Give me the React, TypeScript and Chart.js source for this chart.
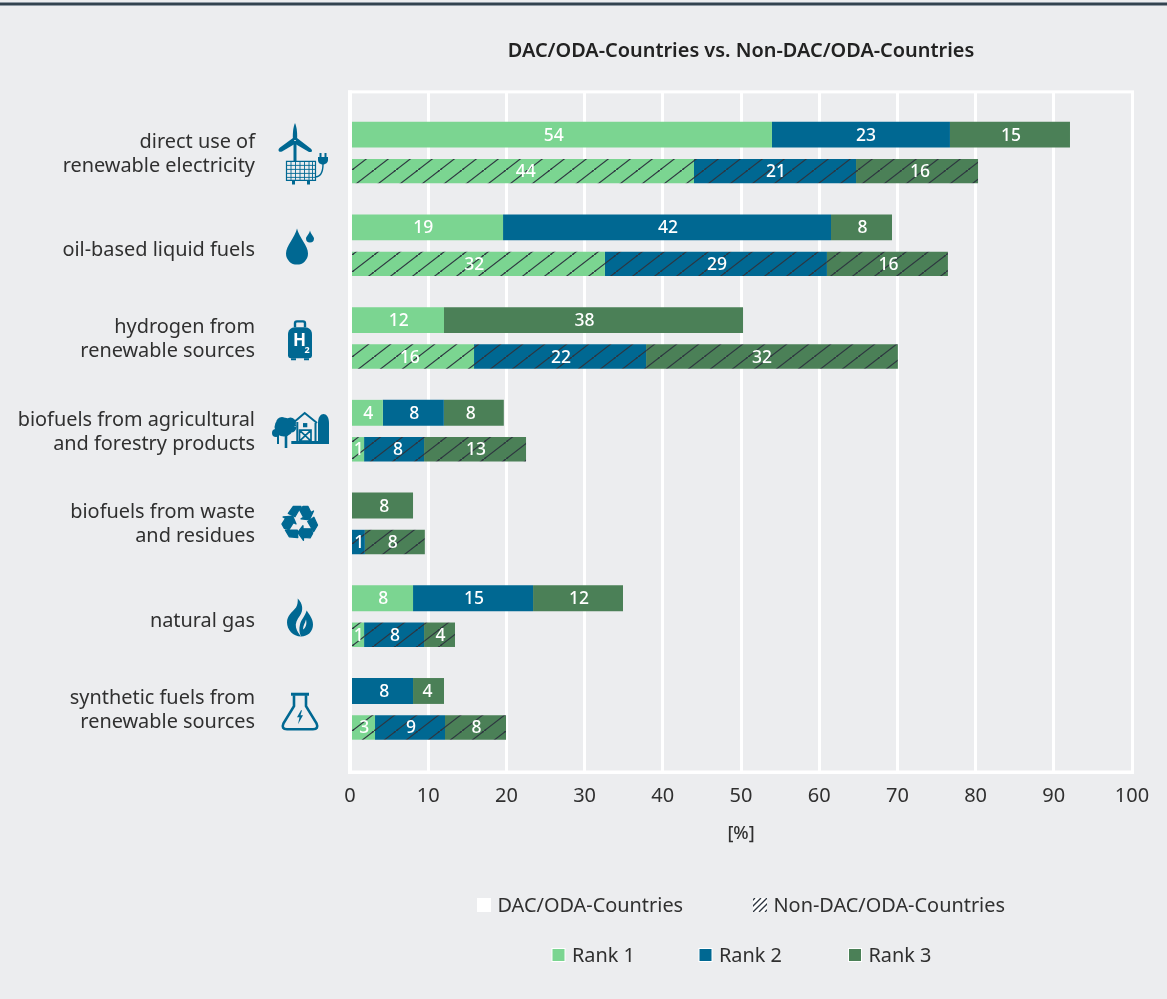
import React, { useEffect, useRef } from "react";
import { Chart, registerables } from "chart.js";

Chart.register(...registerables);

const categoryLabels = [
  ["direct use of", "renewable electricity"],
  ["", "oil-based liquid fuels"],
  ["hydrogen from", "renewable sources"],
  ["biofuels from agricultural", "and forestry products"],
  ["biofuels from waste", "and residues"],
  ["", "natural gas"],
  ["synthetic fuels from", "renewable sources"],
];

const dacRank1 = [53.96, 19.57, 12.02, 4.2, 0, 8.06, 0];
const dacRank2 = [22.76, 41.94, 0, 7.8, 0, 15.35, 8.06];
const dacRank3 = [15.35, 7.8, 38.24, 7.67, 8.06, 11.5, 3.96];
const nonRank1 = [43.99, 32.6, 15.86, 1.8, 0, 1.8, 3.2];
const nonRank2 = [20.72, 28.39, 22.0, 7.67, 1.9, 7.67, 8.95];
const nonRank3 = [15.6, 15.47, 32.2, 13.04, 7.67, 3.96, 7.8];

const dacRank1Labels = [54, 19, 12, 4, 0, 8, 0];
const dacRank2Labels = [23, 42, 0, 8, 0, 15, 8];
const dacRank3Labels = [15, 8, 38, 8, 8, 12, 4];
const nonRank1Labels = [44, 32, 16, 1, 0, 1, 3];
const nonRank2Labels = [21, 29, 22, 8, 1, 8, 9];
const nonRank3Labels = [16, 16, 32, 13, 8, 4, 8];

const titleText = "DAC/ODA-Countries vs. Non-DAC/ODA-Countries";
const axisTitle = "[%]";
const FONT = '"Noto Sans", "Open Sans", sans-serif';
const BG = "#ECEDEF";
const GREEN = "#7BD591";
const BLUE = "#006892";
const DARK = "#4B8057";
const INK = "#303030";

// Labels in the reference that sit visibly off the centre of their segment ("dataset:row" -> px).
const labelNudge: Record<string, number> = {
  "0:0": -9, "1:0": 4, "0:1": -5, "2:2": -10, "3:0": 2, "5:0": 2,
  "3:1": -5, "3:2": -4, "5:2": -11, "2:3": -4, "4:3": 3, "2:4": 1, "5:4": -3,
  "1:6": 1, "2:6": -2,
};

function hatch(color: string): CanvasPattern {
  const c = document.createElement("canvas");
  c.width = 22;
  c.height = 17;
  const g = c.getContext("2d")!;
  g.fillStyle = color;
  g.fillRect(0, 0, 22, 17);
  g.strokeStyle = "#2E3640";
  g.lineWidth = 1.1;
  for (const [dx, dy] of [[0, 0], [-22, 17], [22, -17]]) {
    g.beginPath();
    g.moveTo(dx - 2, dy + 17 + 1.55);
    g.lineTo(dx + 24, dy - 1.55);
    g.stroke();
  }
  return g.createPattern(c, "repeat")!;
}

function fill(ctx: CanvasRenderingContext2D, d: string) {
  ctx.fill(new Path2D(d));
}
function stroke(ctx: CanvasRenderingContext2D, d: string, w: number) {
  ctx.lineWidth = w;
  ctx.stroke(new Path2D(d));
}

const icons: ((c: CanvasRenderingContext2D) => void)[] = [
  (c) => {
    fill(c, "M-6.5,-12 H-3.5 V9 H-6.5Z");
    fill(c, "M-5,-30 C-3,-26 -2.5,-18 -3,-13 L-7,-13 C-7.5,-18 -7,-26 -5,-30Z");
    fill(c, "M-7,-15 L-20,-5.5 C-23,-3 -21,0 -18,-1.5 L-4.5,-9.5Z");
    fill(c, "M-3,-15 L10,-5 C13.5,-2.5 12,0 9,-1 L-5.5,-9.5Z");
    stroke(c, "M-13.5,8.5 H15.5 V27.5 H-13.5Z", 1.2);
    stroke(c, "M-13,12.5 H15 M-13,16.5 H15 M-13,20.5 H15 M-13,24.5 H15 M-9,9 V27 M-4.5,9 V27 M0,9 V27 M4.5,9 V27 M9,9 V27 M12.5,9 V27", 0.9);
    fill(c, "M-8,28 H-5 V31.5 H-8Z M7,28 H10 V31.5 H7Z");
    fill(c, "M18,4 H28 V7 C28,10 25,11.5 23,11.5 C20.5,11.5 18,10 18,7Z M19.5,0 H21.5 V4 H19.5Z M24.5,0 H26.5 V4 H24.5Z");
    stroke(c, "M23,11 C23,19 21,24 15,24", 1.4);
  },
  (c) => {
    fill(c, "M-3,-17 C-1,-8 8,0 8,8 A11,11 0 0 1 -14,8 C-14,0 -5,-8 -3,-17Z");
    fill(c, "M10,-15 C11,-11 14,-9 14,-7 A4,4 0 0 1 6,-7 C6,-9 9,-11 10,-15Z");
  },
  (c) => {
    fill(c, "M-5,-11 H5 C9,-11 12,-8 12,-4 V17 Q12,20 9,20 H-9 Q-12,20 -12,17 V-4 C-12,-8 -9,-11 -5,-11Z");
    stroke(c, "M-5,-11 V-15 Q-5,-17 -3,-17 H3 Q5,-17 5,-15 V-11", 2.4);
    fill(c, "M-9,20 H-4 V22 H-9Z M4,20 H9 V22 H4Z");
    c.fillStyle = "#FFFFFF";
    c.textAlign = "center";
    c.textBaseline = "middle";
    c.font = `700 17px ${FONT}`;
    c.fillText("H", -0.5, 3);
    c.font = `700 9px ${FONT}`;
    c.fillText("2", 7, 12);
  },
  (c) => {
    c.beginPath();
    c.arc(-16, -4, 9.5, 0, Math.PI * 2);
    c.arc(-9, -4, 5.5, 0, Math.PI * 2);
    c.arc(-18, -8, 6, 0, Math.PI * 2);
    c.arc(-9.5, -8, 5.5, 0, Math.PI * 2);
    c.fill();
    c.beginPath();
    c.arc(-24, 2, 4, 0, Math.PI * 2);
    c.fill();
    fill(c, "M-15.3,0 H-12.7 V17 H-15.3Z M-23,0 H-21 V13 H-23Z");
    stroke(c, "M-7,-8 L4.7,-18 L17,-8 M-2.7,-9 V11 M15.5,-8 V11", 2);
    fill(c, "M-8.7,10 H29 V13 H-8.7Z");
    fill(c, "M3,-8 H7.3 V-3.8 H3Z");
    stroke(c, "M-0.5,-1 H11 V10 H-0.5Z M-0.5,-1 L11,10 M11,-1 L-0.5,10", 1.7);
    fill(c, "M18,-8 C18,-20 29,-20 29,-8 V13 H18Z");
  },
  (c) => {
    const band = new Path2D("M-6.7,-16.3 L1,-16.3 L-5,-6 L-11.7,-9.3Z");
    const arrow = new Path2D("M3,-16.3 L8,-16.3 L11,-10.3 L13.5,-11.8 L9.5,-3 L1,-4 L3.5,-5.5 L-0.5,-13Z");
    c.translate(0, -1);
    c.lineWidth = 1.3;
    c.lineJoin = "round";
    for (let k = 0; k < 3; k++) {
      c.save();
      c.rotate((k * 2 * Math.PI) / 3);
      for (const p of [band, arrow]) {
        c.fill(p);
        c.stroke(p);
      }
      c.restore();
    }
  },
  (c) => {
    fill(c, "M-2.3,-18 C3,-13 3.5,-6 0,-1 C-3,3 -5,7 -4,11 C-3,15 -1,17 1,20 C-7,20 -13,13 -13,6 C-13,-1 -8,-4 -4,-9 C-2.5,-11.5 -2,-15 -2.3,-18Z");
    fill(c, "M6.7,-6 C9,-2 13,2 13,8 C13,15 8,20 1,20 C-1,16 -1,12 0,8 C1,3 5,0 6.7,-6Z");
    c.fillStyle = BG;
    fill(c, "M6,3 C5,7 3,9 3,13 C6,11 7,7 6,3Z");
    c.fillStyle = BLUE;
  },
  (c) => {
    stroke(c, "M-9,-15 H9", 3);
    stroke(c, "M-6,-14 V-3 L-16.5,14 Q-19,20 -13,20 H13 Q19,20 16.5,14 L6,-3 V-14", 2.6);
    fill(c, "M1,1 L-3,8 L-0.5,8 L-2,15 L3,6 L0.5,6 L2,1Z");
  },
];

export default function App() {
  const ref = useRef<HTMLCanvasElement>(null);

  useEffect(() => {
    const canvas = ref.current!;
    const mk = (
      label: string,
      values: number[],
      labels: number[],
      color: string | CanvasPattern,
      stack: string,
      barPercentage: number
    ) => ({
      label,
      data: values.map((v, i) => ({ x: v, y: i })),
      valueLabels: labels,
      backgroundColor: color,
      borderWidth: 0,
      stack,
      barPercentage,
      categoryPercentage: 0.787,
    });

    const frontPlugin = {
      id: "front",
      beforeDraw(ch: any) {
        const c = ch.ctx;
        c.save();
        c.fillStyle = BG;
        c.fillRect(0, 0, ch.width, ch.height);
        c.fillStyle = "#8E99A3";
        c.fillRect(0, 2, ch.width, 4);
        c.fillStyle = "#33434F";
        c.fillRect(0, 3, ch.width, 2);
        c.restore();
      },
      afterDatasetsDraw(ch: any) {
        const c = ch.ctx;
        const xs = ch.scales.x;
        const ys = ch.scales.y;
        c.save();
        // frame
        c.fillStyle = "#FFFFFF";
        const l = xs.getPixelForValue(0);
        const r = xs.getPixelForValue(100);
        c.fillRect(l - 2, ys.top - 1.5, 4, ys.bottom - ys.top + 3);
        c.fillRect(l - 2, ys.top - 1.5, r - l + 4, 3);
        c.fillRect(l - 2, ys.bottom - 1.5, r - l + 4, 3.5);
        // value labels
        c.font = `500 17.5px ${FONT}`;
        c.fillStyle = "#FFFFFF";
        c.textAlign = "center";
        c.textBaseline = "middle";
        ch.data.datasets.forEach((ds: any, di: number) => {
          ch.getDatasetMeta(di).data.forEach((el: any, i: number) => {
            const v = ds.valueLabels[i];
            if (!v) return;
            const dx = labelNudge[`${di}:${i}`] ?? 0;
            c.fillText(String(v), (el.x + el.base) / 2 + 1 + dx, el.y + 1);
          });
        });
        // icons
        c.fillStyle = BLUE;
        c.strokeStyle = BLUE;
        icons.forEach((draw, i) => {
          c.save();
          c.translate(300, ys.getPixelForValue(i));
          draw(c);
          c.restore();
        });
        // legend
        const swatch = (x: number, y: number, color: string, hatched = false) => {
          c.fillStyle = "#FFFFFF";
          c.fillRect(x, y, 14, 14);
          if (hatched) {
            c.save();
            c.beginPath();
            c.rect(x, y, 14, 14);
            c.clip();
            c.strokeStyle = "#2E3640";
            c.lineWidth = 1.3;
            for (const o of [-5, 1, 7, 13, 19]) {
              c.beginPath();
              c.moveTo(x + o - 7, y + 14);
              c.lineTo(x + o + 7, y);
              c.stroke();
            }
            c.restore();
          } else if (color !== "#FFFFFF") {
            c.fillStyle = color;
            c.fillRect(x + 1, y + 1, 12, 12);
          }
        };
        const entries: [number, number, string, boolean, string, number][] = [
          [477, 898, "#FFFFFF", false, "DAC/ODA-Countries", 497.5],
          [753, 898, "#FFFFFF", true, "Non-DAC/ODA-Countries", 773.5],
          [551.5, 948, GREEN, false, "Rank 1", 572],
          [698.5, 948, BLUE, false, "Rank 2", 719],
          [848, 948, DARK, false, "Rank 3", 868.5],
        ];
        c.textAlign = "left";
        c.textBaseline = "middle";
        c.font = `400 19.9px ${FONT}`;
        for (const [sx, sy, col, h, t, tx] of entries) {
          swatch(sx, sy, col, h);
          c.fillStyle = INK;
          c.fillText(t, tx, sy + 8);
        }
        c.restore();
      },
    };

    const chart = new Chart(canvas, {
      type: "bar",
      data: {
        datasets: [
          mk("Rank 1 DAC", dacRank1, dacRank1Labels, GREEN, "dac", 0.71),
          mk("Rank 2 DAC", dacRank2, dacRank2Labels, BLUE, "dac", 0.71),
          mk("Rank 3 DAC", dacRank3, dacRank3Labels, DARK, "dac", 0.71),
          mk("Rank 1 Non-DAC", nonRank1, nonRank1Labels, hatch(GREEN), "non", 0.67),
          mk("Rank 2 Non-DAC", nonRank2, nonRank2Labels, hatch(BLUE), "non", 0.67),
          mk("Rank 3 Non-DAC", nonRank3, nonRank3Labels, hatch(DARK), "non", 0.67),
        ] as any,
      },
      options: {
        indexAxis: "y",
        responsive: false,
        animation: false,
        layout: { padding: { top: 0, right: 35, bottom: 154, left: 0 } },
        plugins: {
          legend: { display: false },
          tooltip: { enabled: false },
          title: {
            display: true,
            text: titleText,
            color: "#222222",
            fullSize: false,
            font: { family: FONT, size: 19.9, weight: "600", lineHeight: 1.2 },
            padding: { top: 39, bottom: 29 },
          },
        },
        scales: {
          x: {
            type: "linear",
            stacked: true,
            min: 0,
            max: 100,
            afterFit: (s: any) => {
              s.height = 73;
            },
            grid: { color: "#FFFFFF", lineWidth: 3, drawTicks: false },
            border: { display: false },
            ticks: {
              stepSize: 10,
              color: INK,
              padding: 12,
              maxRotation: 0,
              font: { family: FONT, size: 20 },
            },
            title: {
              display: true,
              text: axisTitle,
              color: INK,
              padding: 0,
              font: { family: FONT, size: 18, weight: "500" },
            },
          },
          y: {
            type: "linear",
            reverse: true,
            stacked: true,
            offset: false,
            min: -0.658,
            max: 6.677,
            afterFit: (s: any) => {
              s.width = 350;
              s.paddingTop = 0;
              s.paddingBottom = 0;
            },
            afterBuildTicks: (s: any) => {
              s.ticks = categoryLabels.map((_, i) => ({ value: i + 0.011 }));
            },
            grid: { display: false },
            border: { display: false },
            ticks: {
              autoSkip: false,
              padding: 87,
              color: INK,
              callback: (v: any) => categoryLabels[Math.round(v as number)],
              font: (ctx: any) => ({
                family: FONT,
                size: 19.9,
                lineHeight: categoryLabels[ctx.index]?.[0] === "" ? "8px" : "24px",
              }),
            },
          },
        },
      } as any,
      plugins: [frontPlugin],
    });
    return () => chart.destroy();
  }, []);

  return (
    <canvas
      ref={ref}
      width={1167}
      height={999}
      style={{ position: "absolute", left: 0, top: 0, display: "block" }}
    />
  );
}
